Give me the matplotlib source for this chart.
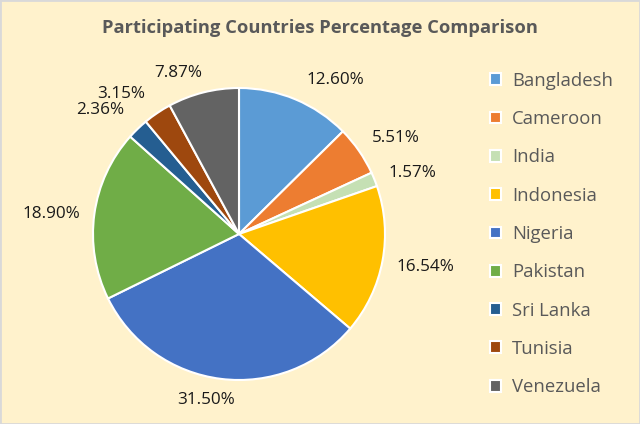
import matplotlib
matplotlib.use("Agg")
import matplotlib.pyplot as plt
from matplotlib.patches import Patch, Rectangle

countries = ["Bangladesh", "Cameroon", "India", "Indonesia", "Nigeria",
             "Pakistan", "Sri Lanka", "Tunisia", "Venezuela"]
percentages = [12.60, 5.51, 1.57, 16.54, 31.50, 18.90, 2.36, 3.15, 7.87]
colors = ["#5B9BD5", "#ED7D31", "#C5E0B4", "#FFC000", "#4472C4",
          "#70AD47", "#255E91", "#9E480E", "#636363"]
# label positions in pie-radius units (layout only)
label_pos = [(0.66, 1.055), (1.075, 0.66), (1.185, 0.42), (1.28, -0.226),
             (-0.226, -1.137), (-1.288, 0.137), (-0.952, 0.85), (-0.808, 0.959),
             (-0.418, 1.10)]

bg = "#FFF2CC"
txt = "#595959"
font = "Open Sans"

fig = plt.figure(figsize=(6.4, 4.24), dpi=100)
fig.patch.set_facecolor(bg)
fig.patches.append(Rectangle((0, 0), 1, 1, transform=fig.transFigure,
                             fill=False, edgecolor="#D9D9D9", linewidth=2))

ax = fig.add_axes([93/640, 44/424, 292/640, 292/424])
ax.set_facecolor(bg)
wedges, _ = ax.pie(percentages, colors=colors, startangle=90, counterclock=False,
                   wedgeprops=dict(edgecolor="white", linewidth=1.5))
ax.set_xlim(-1.0, 1.0)
ax.set_ylim(-1.0, 1.0)
ax.set_aspect("equal")
ax.axis("off")

for v, (x, y) in zip(percentages, label_pos):
    ax.text(x, y, f"{v:.2f}%", ha="center", va="center", fontsize=12.3,
            color="#1A1A1A", family=font, clip_on=False)

fig.text(320/640, 1 - 28/424, "Participating Countries Percentage Comparison",
         ha="center", va="center", fontsize=13.2, fontweight="bold",
         color=txt, family=font)

handles = [Patch(facecolor=c, edgecolor="white", linewidth=1.5) for c in colors]
leg = fig.legend(handles, countries, loc="upper left",
                 bbox_to_anchor=(473/640, 1 - 55/424), frameon=False,
                 handlelength=0.6, handleheight=0.6, handletextpad=0.6,
                 labelspacing=1.1, prop=dict(family=font, size=13.3))
for t in leg.get_texts():
    t.set_color(txt)

fig.savefig("out.png", dpi=100, facecolor=bg)
